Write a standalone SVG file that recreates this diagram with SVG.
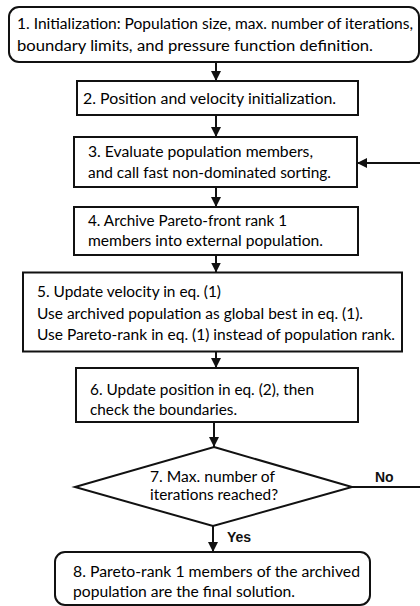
<svg xmlns="http://www.w3.org/2000/svg" width="420" height="606" viewBox="0 0 420 606">
<style>
.box{fill:#fff;stroke:#111;stroke-width:2}
.t{font-family:Lato,"Liberation Sans",sans-serif;font-size:14.5px;fill:#000}
.b{font-family:"Liberation Sans",Arial,sans-serif;font-size:14px;font-weight:bold;fill:#111}
.c{fill:none;stroke:#111;stroke-width:2}
</style>
<defs>
<marker id="ah" markerUnits="userSpaceOnUse" markerWidth="10" markerHeight="10" refX="10" refY="5" orient="auto">
<path d="M0,0 L10,5 L0,10 z" fill="#111"/>
</marker>
</defs>
<rect width="420" height="606" fill="#fff"/>
<g id="connectors">
<line class="c" x1="216" y1="62" x2="216" y2="81" marker-end="url(#ah)"/>
<line class="c" x1="216" y1="115" x2="216" y2="137" marker-end="url(#ah)"/>
<line class="c" x1="216" y1="187" x2="216" y2="207" marker-end="url(#ah)"/>
<line class="c" x1="216" y1="255" x2="216" y2="272.5" marker-end="url(#ah)"/>
<line class="c" x1="216" y1="352" x2="216" y2="368" marker-end="url(#ah)"/>
<line class="c" x1="214" y1="422" x2="214" y2="447" marker-end="url(#ah)"/>
<line class="c" x1="213" y1="526" x2="213" y2="552" marker-end="url(#ah)"/>
<path class="c" d="M352,487 H422 V163 H357" marker-end="url(#ah)"/>
<text class="b" x="375" y="482">No</text>
<text class="b" x="227" y="542">Yes</text>
</g>
<g id="n1">
<rect class="box" x="9" y="7" width="410" height="55" rx="10"/>
<text class="t" x="17" y="29" textLength="396" lengthAdjust="spacingAndGlyphs">1. Initialization: Population size, max. number of iterations,</text>
<text class="t" x="17" y="51" textLength="356" lengthAdjust="spacingAndGlyphs">boundary limits, and pressure function definition.</text>
</g>
<g id="n2">
<rect class="box" x="77" y="81" width="281" height="34"/>
<text class="t" x="83" y="104" textLength="253" lengthAdjust="spacingAndGlyphs">2. Position and velocity initialization.</text>
</g>
<g id="n3">
<rect class="box" x="74" y="137" width="283" height="50"/>
<text class="t" x="88" y="157" textLength="225" lengthAdjust="spacingAndGlyphs">3. Evaluate population members,</text>
<text class="t" x="88" y="177.5" textLength="243" lengthAdjust="spacingAndGlyphs">and call fast non-dominated sorting.</text>
</g>
<g id="n4">
<rect class="box" x="74" y="207" width="284" height="48"/>
<text class="t" x="88" y="226" textLength="199" lengthAdjust="spacingAndGlyphs">4. Archive Pareto-front rank 1</text>
<text class="t" x="88" y="246" textLength="235" lengthAdjust="spacingAndGlyphs">members into external population.</text>
</g>
<g id="n5">
<rect class="box" x="23" y="272.5" width="379" height="79"/>
<text class="t" x="37" y="297" textLength="184" lengthAdjust="spacingAndGlyphs">5. Update velocity in eq. (1)</text>
<text class="t" x="37" y="318.5" textLength="326" lengthAdjust="spacingAndGlyphs">Use archived population as global best in eq. (1).</text>
<text class="t" x="37" y="339.5" textLength="358" lengthAdjust="spacingAndGlyphs">Use Pareto-rank in eq. (1) instead of population rank.</text>
</g>
<g id="n6">
<rect class="box" x="76" y="368" width="282" height="54"/>
<text class="t" x="90" y="395" textLength="224" lengthAdjust="spacingAndGlyphs">6. Update position in eq. (2), then</text>
<text class="t" x="90" y="415" textLength="147" lengthAdjust="spacingAndGlyphs">check the boundaries.</text>
</g>
<g id="n7">
<polygon class="box" points="214,447 352,487 213,526 75,487"/>
<text class="t" x="150" y="482" textLength="125" lengthAdjust="spacingAndGlyphs">7. Max. number of</text>
<text class="t" x="150" y="500" textLength="128" lengthAdjust="spacingAndGlyphs">iterations reached?</text>
</g>
<g id="n8">
<rect class="box" x="55" y="552" width="315" height="53" rx="10"/>
<text class="t" x="73" y="577" textLength="287" lengthAdjust="spacingAndGlyphs">8. Pareto-rank 1 members of the archived</text>
<text class="t" x="73" y="597" textLength="222" lengthAdjust="spacingAndGlyphs">population are the final solution.</text>
</g>
</svg>
